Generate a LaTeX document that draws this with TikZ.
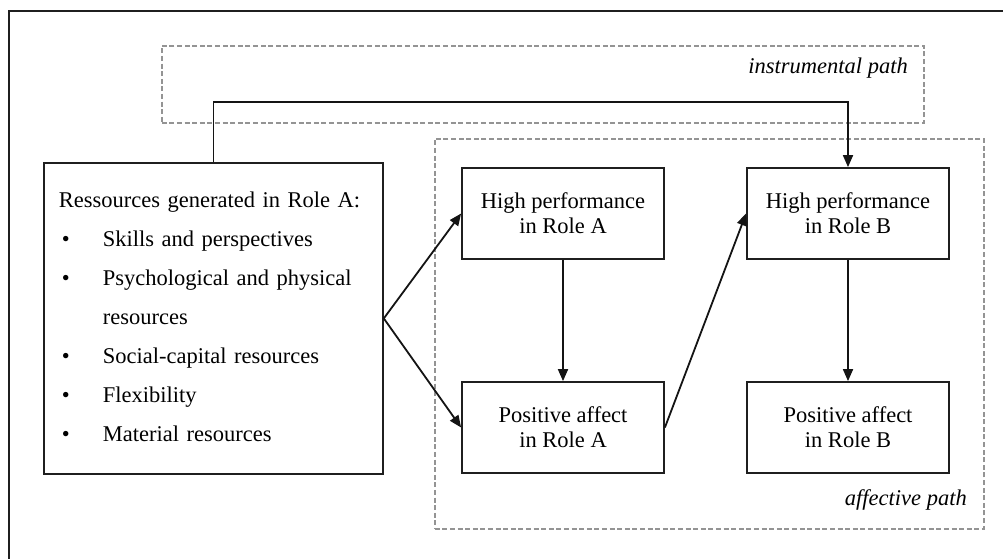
\documentclass[tikz,border=0pt]{standalone}
\usepackage{fontspec}
\setmainfont{Liberation Serif}
\usetikzlibrary{arrows.meta}
\tikzset{
  rolebox/.style={draw=black!88, line width=1.8pt, minimum width=202pt, minimum height=91pt,
    align=center, inner sep=0pt, font=\fontsize{22.5}{25}\selectfont},
  pathbox/.style={draw=black!42, line width=1.5pt, dash pattern=on 5pt off 2.6pt,
    anchor=north west, inner sep=0pt},
  pathlabel/.style={anchor=base east, inner sep=0pt, font=\fontsize{22.5}{25}\selectfont\itshape},
  arr/.style={draw=black!92, line width=1.8pt, -{Triangle[length=12pt,width=10pt]}}
}
\begin{document}
\begin{tikzpicture}[x=1pt,y=-1pt]
\useasboundingbox (0,0) rectangle (1003,558);
\clip (0,0) rectangle (1003,558);
% outer frame (cropped at right and bottom)
\draw[line width=2pt, draw=black!88] (8.5,11) rectangle (1015,575);
% path regions
\node[pathbox, minimum width=762pt, minimum height=77pt] (inst) at (161,45) {};
\node[pathbox, minimum width=549pt, minimum height=390pt] (aff) at (434,138) {};
\node[pathlabel] (instlab) at (908,73) {instrumental path};
\node[pathlabel] (afflab) at (967,505) {affective path};
% resource box
\node[draw=black!88, line width=1.8pt, anchor=north west, minimum width=339pt, minimum height=311pt,
      text width=309pt, inner xsep=15pt, inner ysep=0pt, align=left,
      font=\fontsize{22.5}{39}\selectfont, yshift=0pt] (res) at (43,162)
 {\raisebox{0pt}[15.3pt][0pt]{}Ressources generated in Role A:\\
  \hspace*{3pt}\makebox[41pt][l]{\textbullet}Skills and perspectives\\
  \hspace*{3pt}\makebox[41pt][l]{\textbullet}Psychological and physical\\
  \hspace*{44pt}resources\\
  \hspace*{3pt}\makebox[41pt][l]{\textbullet}Social-capital resources\\
  \hspace*{3pt}\makebox[41pt][l]{\textbullet}Flexibility\\
  \hspace*{3pt}\makebox[41pt][l]{\textbullet}Material resources\raisebox{0pt}[0pt][3pt]{}};
% role boxes
\node[rolebox] (hpA) at (563,213.5) {High performance\\in Role A};
\node[rolebox] (hpB) at (848,213.5) {High performance\\in Role B};
\node[rolebox] (paA) at (563,427.5) {Positive affect\\in Role A};
\node[rolebox] (paB) at (848,427.5) {Positive affect\\in Role B};
% connectors
\draw[arr] (res.north) -- ++(0,-60) -| (hpB.north);
\draw[arr] (res.east) -- (hpA.west);
\draw[arr] (res.east) -- (paA.west);
\draw[arr] (hpA.south) -- (paA.north);
\draw[arr] (paA.east) -- (hpB.west);
\draw[arr] (hpB.south) -- (paB.north);
\end{tikzpicture}
\end{document}
